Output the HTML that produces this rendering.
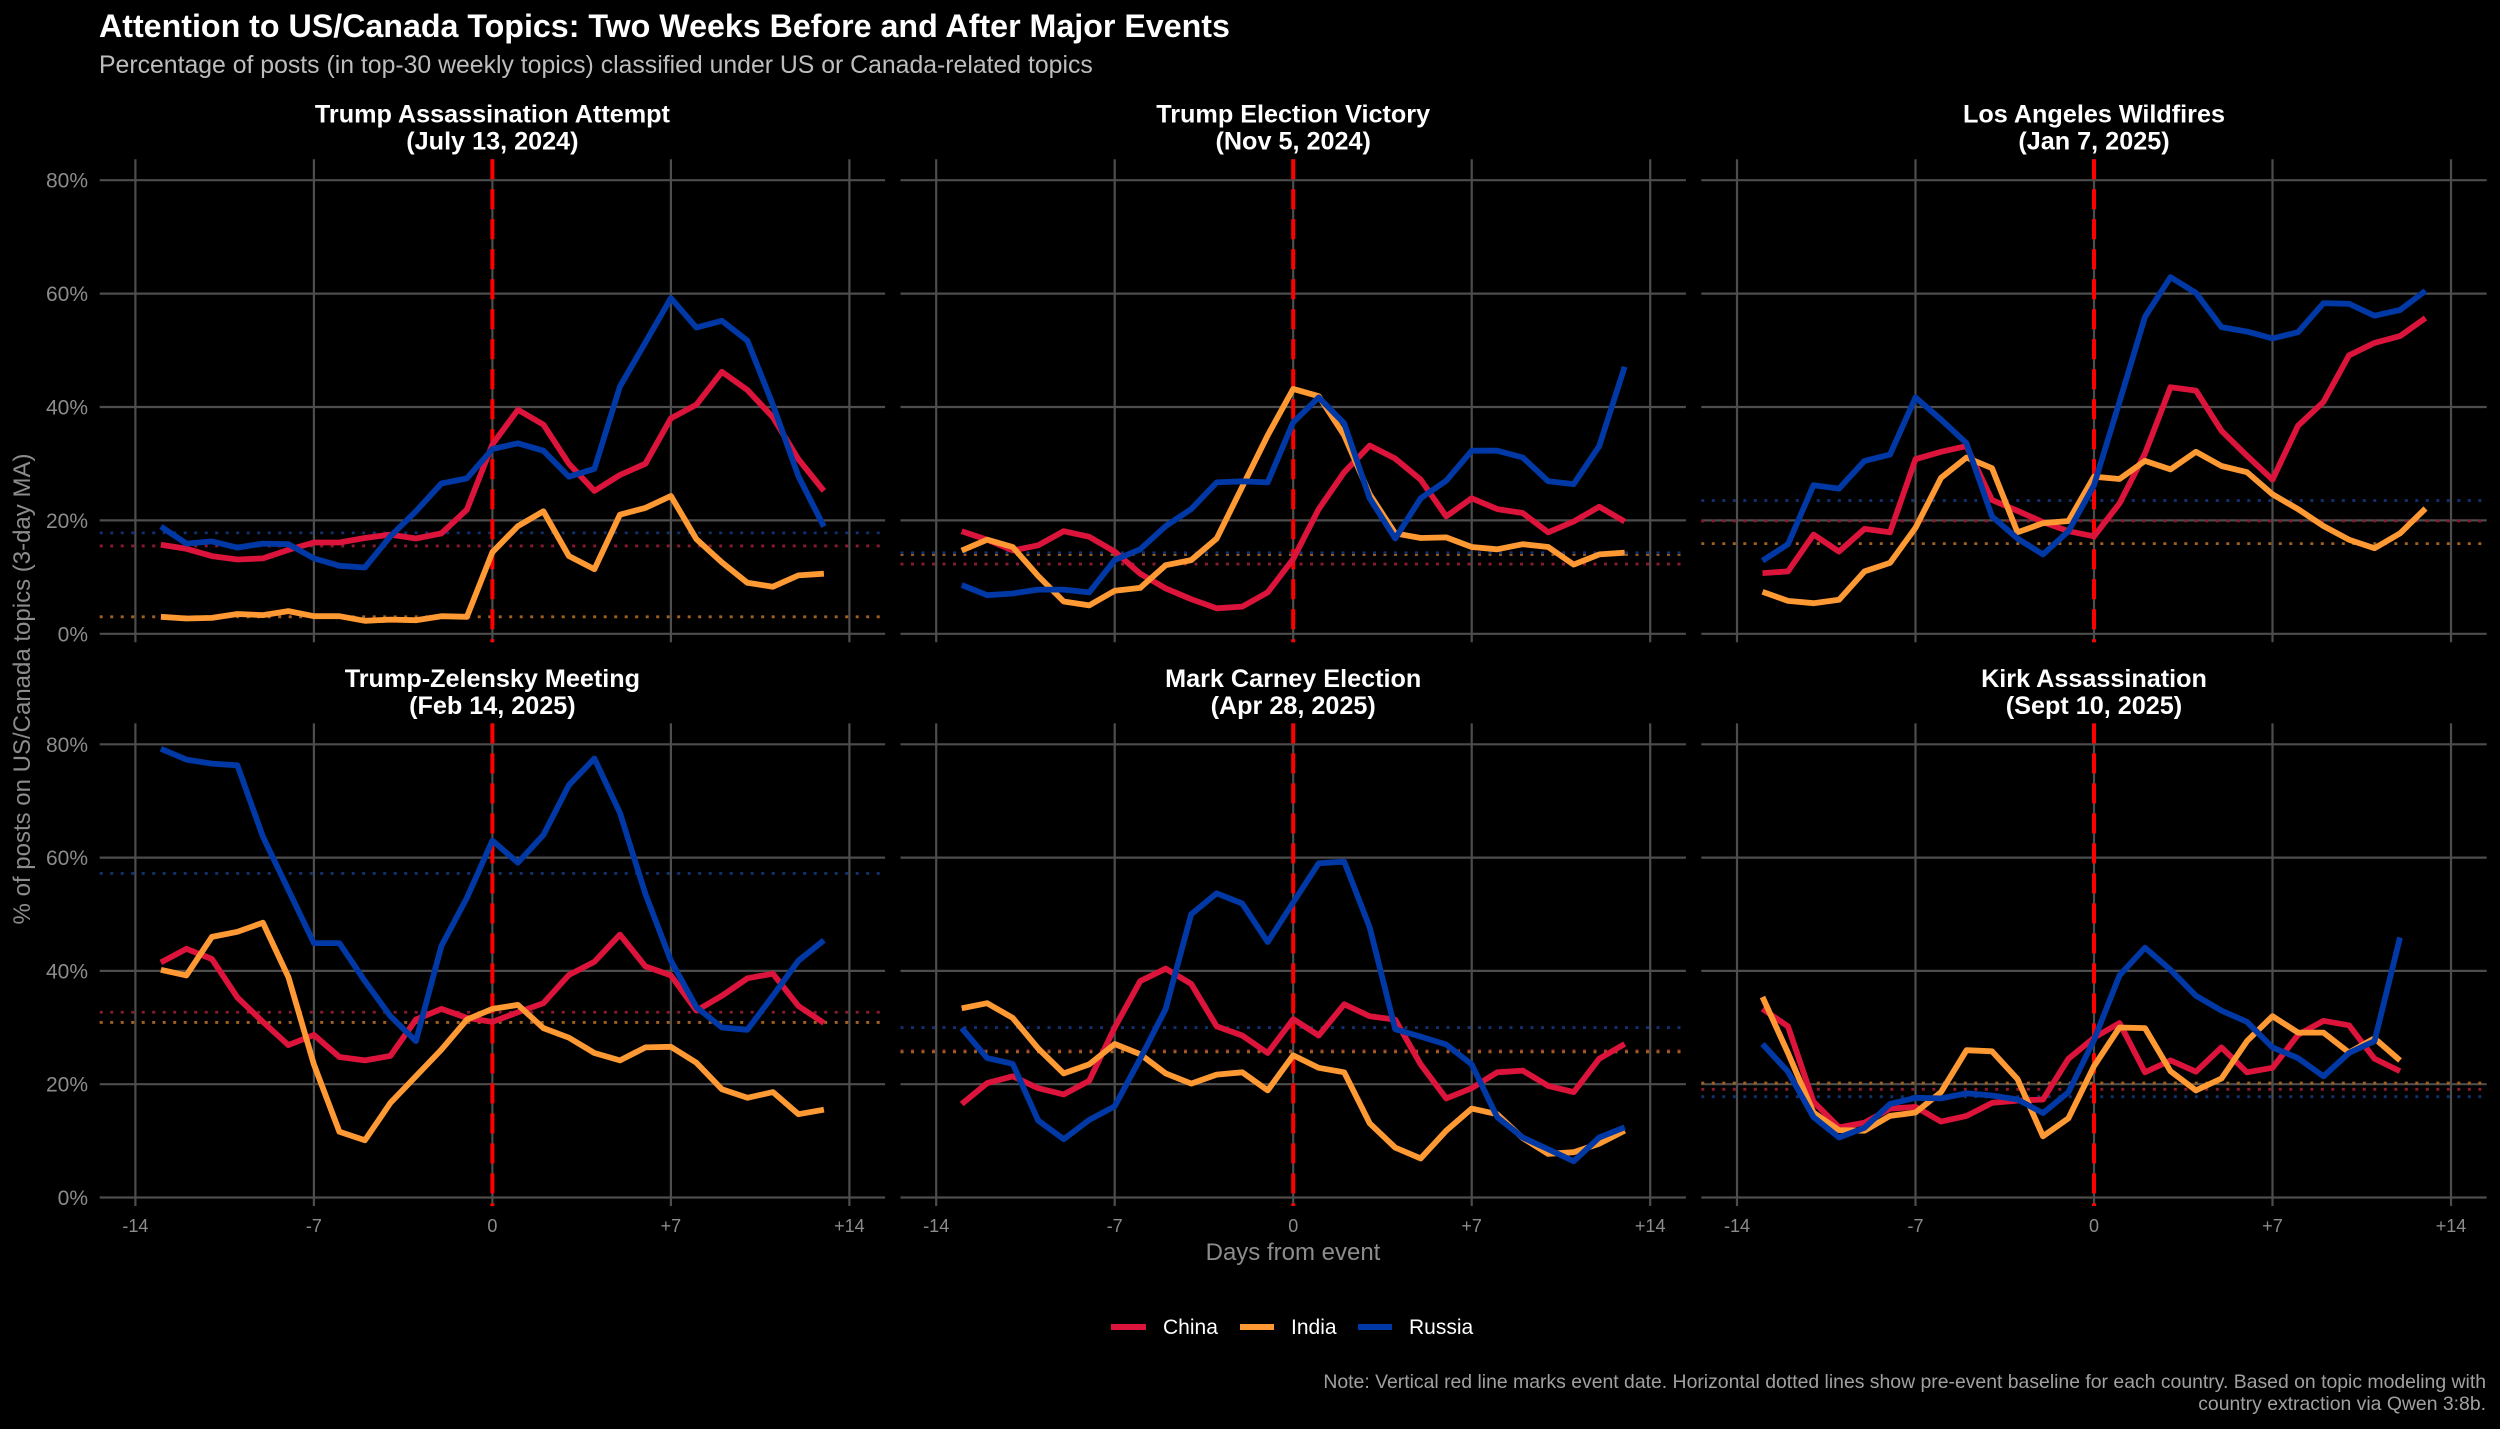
<!DOCTYPE html>
<html><head><meta charset="utf-8"><style>
html,body{margin:0;padding:0;background:#000;}
svg{display:block;font-family:"Liberation Sans",sans-serif;}
</style></head><body>
<svg id="chart" xmlns="http://www.w3.org/2000/svg" width="2500" height="1429" viewBox="0 0 2500 1429">
<rect width="2500" height="1429" fill="#000"/>
<text x="99" y="37" fill="#fff" font-size="32.2" font-weight="bold">Attention to US/Canada Topics: Two Weeks Before and After Major Events</text>
<text x="99" y="73" fill="#bdbdbd" font-size="24.8">Percentage of posts (in top-30 weekly topics) classified under US or Canada-related topics</text>
<text transform="translate(30,689) rotate(-90)" text-anchor="middle" fill="#8c8c8c" font-size="24">% of posts on US/Canada topics (3-day MA)</text>
<text x="1293" y="1260" text-anchor="middle" fill="#8c8c8c" font-size="24">Days from event</text>
<g>
<line x1="1111" y1="1327" x2="1146" y2="1327" stroke="#DC143C" stroke-width="6"/>
<text x="1163" y="1334" fill="#fff" font-size="21">China</text>
<line x1="1240" y1="1327" x2="1274" y2="1327" stroke="#FF9933" stroke-width="6"/>
<text x="1291" y="1334" fill="#fff" font-size="21">India</text>
<line x1="1358" y1="1327" x2="1392" y2="1327" stroke="#0039A6" stroke-width="6"/>
<text x="1409" y="1334" fill="#fff" font-size="21">Russia</text>
</g>
<text x="2486" y="1388" text-anchor="end" fill="#a0a0a0" font-size="19.4">Note: Vertical red line marks event date. Horizontal dotted lines show pre-event baseline for each country. Based on topic modeling with</text>
<text x="2486" y="1410" text-anchor="end" fill="#a0a0a0" font-size="19.4">country extraction via Qwen 3:8b.</text>
</svg>
<script>
const panelTitles = ["Trump Assassination Attempt","Trump Election Victory","Los Angeles Wildfires","Trump-Zelensky Meeting","Mark Carney Election","Kirk Assassination"];
const panelDates = ["(July 13, 2024)","(Nov 5, 2024)","(Jan 7, 2025)","(Feb 14, 2025)","(Apr 28, 2025)","(Sept 10, 2025)"];
const yTicks = [0,20,40,60,80];
const yTickLabels = ["0%","20%","40%","60%","80%"];
const xTicks = [-14,-7,0,7,14];
const xTickLabels = ["-14","-7","0","+7","+14"];
const countries = ["China","India","Russia"];
const startDay = -13;

const china = [
[15.7,15.0,13.7,13.1,13.3,14.8,16.1,16.1,16.9,17.5,16.8,17.7,21.9,33.4,39.5,36.9,30.0,25.2,28.0,30.0,38.0,40.4,46.2,43.0,38.2,30.8,25.2],
[18.1,16.6,14.7,15.6,18.1,17.1,14.5,10.6,8.0,6.1,4.5,4.8,7.3,13.2,22.0,28.5,33.2,30.9,27.2,20.7,23.9,22.0,21.3,17.9,19.8,22.4,19.8],
[10.7,11.0,17.5,14.5,18.5,17.9,30.8,32.1,33.1,23.6,21.7,19.7,18.1,17.2,23.0,31.8,43.5,42.9,35.8,31.4,27.2,36.7,40.9,49.1,51.3,52.5,55.7],
[41.5,43.9,42.1,35.3,31.0,26.9,28.7,24.8,24.2,25.0,31.4,33.3,31.7,31.0,32.7,34.3,39.3,41.6,46.4,40.8,39.2,33.0,35.6,38.7,39.5,33.8,30.8],
[16.5,20.2,21.4,19.3,18.2,20.6,30.0,38.2,40.4,37.7,30.2,28.6,25.5,31.5,28.6,34.1,32.0,31.4,23.5,17.5,19.3,22.1,22.4,19.7,18.6,24.5,27.1],
[33.3,30.2,16.9,12.4,13.2,15.7,16.0,13.4,14.4,16.7,17.1,17.3,24.5,28.2,30.8,22.1,24.2,22.2,26.5,22.1,22.9,28.7,31.2,30.4,24.5,22.3]
];
const india = [
[3.0,2.7,2.8,3.5,3.3,4.0,3.1,3.1,2.3,2.5,2.4,3.1,3.0,14.4,19.0,21.6,13.7,11.4,21.0,22.2,24.3,16.7,12.6,9.0,8.3,10.3,10.6],
[14.7,16.6,15.3,10.2,5.7,5.0,7.6,8.1,12.1,13.0,16.8,25.9,35.0,43.2,41.9,35.0,24.6,17.7,16.9,17.0,15.3,14.9,15.8,15.3,12.2,14.0,14.3],
[7.4,5.8,5.4,6.0,11.0,12.5,18.7,27.5,31.1,29.2,17.9,19.5,19.9,27.7,27.3,30.5,29.0,32.1,29.6,28.5,24.6,22.0,19.0,16.6,15.1,17.7,22.1],
[40.2,39.2,46.0,46.9,48.5,38.9,23.5,11.6,10.1,16.7,21.4,26.1,31.4,33.3,34.0,29.9,28.2,25.5,24.2,26.5,26.6,23.8,19.1,17.6,18.6,14.7,15.5],
[33.4,34.3,31.7,26.3,21.9,23.5,27.1,25.3,21.9,20.1,21.7,22.1,18.9,25.1,22.9,22.1,13.1,8.8,6.9,11.8,15.7,14.7,10.5,7.7,8.0,9.5,11.8],
[35.4,25.5,15.0,11.9,11.8,14.4,15.0,18.6,26.0,25.8,20.9,10.8,14.0,23.2,30.0,29.9,22.3,18.9,21.0,27.6,32.0,29.1,29.1,25.6,28.1,24.2]
];
const russia = [
[18.9,15.9,16.3,15.2,15.9,15.8,13.3,12.0,11.7,17.2,21.6,26.5,27.4,32.6,33.6,32.3,27.7,29.1,43.6,51.4,59.2,54.0,55.2,51.7,40.4,27.8,18.9],
[8.6,6.8,7.1,7.8,7.8,7.3,13.0,14.9,19.0,22.0,26.7,26.9,26.7,37.3,41.7,37.1,23.9,16.8,23.9,27.0,32.3,32.3,31.1,26.9,26.4,33.1,47.1],
[12.9,15.8,26.2,25.6,30.5,31.6,41.7,37.8,33.6,20.7,16.8,14.0,18.1,26.2,40.9,55.9,62.9,60.1,54.1,53.3,52.1,53.2,58.3,58.2,56.1,57.1,60.5],
[79.2,77.3,76.6,76.3,63.7,54.3,44.9,44.9,38.2,32.0,27.6,44.4,52.9,63.0,59.1,64.0,72.8,77.5,67.9,53.6,41.8,33.6,30.0,29.6,35.6,41.8,45.4],
[29.9,24.6,23.6,13.6,10.3,13.7,16.1,24.5,33.3,50.0,53.7,51.9,45.1,52.1,59.0,59.3,47.7,29.7,28.4,27.0,23.5,14.2,10.6,8.5,6.4,10.6,12.4],
[27.1,22.2,14.2,10.6,12.3,16.5,17.6,17.5,18.4,18.0,17.3,14.9,18.6,27.8,39.2,44.1,40.2,35.6,33.0,31.0,26.5,24.6,21.4,25.5,27.6,45.9]
];
const baseChina = [15.5,12.3,19.9,32.7,25.9,19.1];
const baseIndia = [3.0,14.0,15.9,30.9,25.7,20.2];
const baseRussia = [17.8,14.3,23.5,57.2,30.0,17.8];

const colors = {China:"#DC143C", India:"#FF9933", Russia:"#0039A6"};
const NS = "http://www.w3.org/2000/svg";
const svg = document.getElementById("chart");
function mk(tag, attrs, parent){
  const e = document.createElementNS(NS, tag);
  for (const k in attrs) e.setAttribute(k, attrs[k]);
  (parent||svg).appendChild(e);
  return e;
}
const zeroX = [492.4, 1293.2, 2094.0];
const rowY0 = [633.8, 1197.5];
const rowY80 = [180.2, 744.3];
const dayW = 25.5;

for (let p = 0; p < 6; p++) {
  const col = p % 3, row = Math.floor(p / 3);
  const x0 = zeroX[col];
  const xs = d => x0 + d * dayW;
  const ys = v => rowY0[row] - v * (rowY0[row] - rowY80[row]) / 80;
  const g = mk("g", {});
  
  
  const left = xs(-15.4), right = xs(15.4);
  const top = ys(83.7), bottom = ys(-1.5);
  yTicks.forEach((t, i) => {
    const l = mk("line", {x1: left, x2: right, y1: ys(t), y2: ys(t), stroke: "#4d4d4d", "stroke-width": 2.2}, g);
    
    
    if (col === 0) {
      const tx = mk("text", {x: 88, y: ys(t) + 7.5, "text-anchor": "end", fill: "#8c8c8c", "font-size": 21}, g);
      
      
      tx.textContent = yTickLabels[i];
    }
  });
  xTicks.forEach((t, i) => {
    const l = mk("line", {x1: xs(t), x2: xs(t), y1: top, y2: bottom, stroke: "#4d4d4d", "stroke-width": 2.2}, g);
    
    
    if (row === 1) {
      const tx = mk("text", {x: xs(t), y: 1232, "text-anchor": "middle", fill: "#8c8c8c", "font-size": 18}, g);
      
      
      tx.textContent = xTickLabels[i];
    }
  });
  const cy = row === 0 ? 122.5 : 687;
  const t1 = mk("text", {x: (left + right) / 2, y: cy, "text-anchor": "middle", fill: "#fff", "font-size": 25.2, "font-weight": "bold"}, g);
  
  
  t1.textContent = panelTitles[p];
  const t2 = mk("text", {x: (left + right) / 2, y: cy + 27, "text-anchor": "middle", fill: "#fff", "font-size": 25.2, "font-weight": "bold"}, g);
  
  
  t2.textContent = panelDates[p];
  const bases = [baseChina[p], baseIndia[p], baseRussia[p]];
  const bcol = ["#8a1a30", "#a06020", "#12306e"];
  bases.forEach((b, i) => {
    const l = mk("line", {x1: left, x2: right, y1: ys(b), y2: ys(b), stroke: bcol[i], "stroke-width": 2.8, "stroke-dasharray": "3 7.5"}, g);
    
    
  });
  const ev = mk("line", {x1: xs(0), x2: xs(0), y1: top, y2: bottom, stroke: "#ff0000", "stroke-width": 4, "stroke-dasharray": "20 10"}, g);
  
  
  const series = [china[p], india[p], russia[p]];
  series.forEach((vals, i) => {
    const pts = vals.map((v, k) => xs(startDay + k).toFixed(1) + "," + ys(v).toFixed(1)).join(" ");
    const pl = mk("polyline", {points: pts, fill: "none", stroke: colors[countries[i]], "stroke-width": 5.8, "stroke-linejoin": "round"}, g);
    
    
  });
}
</script>
</body></html>
